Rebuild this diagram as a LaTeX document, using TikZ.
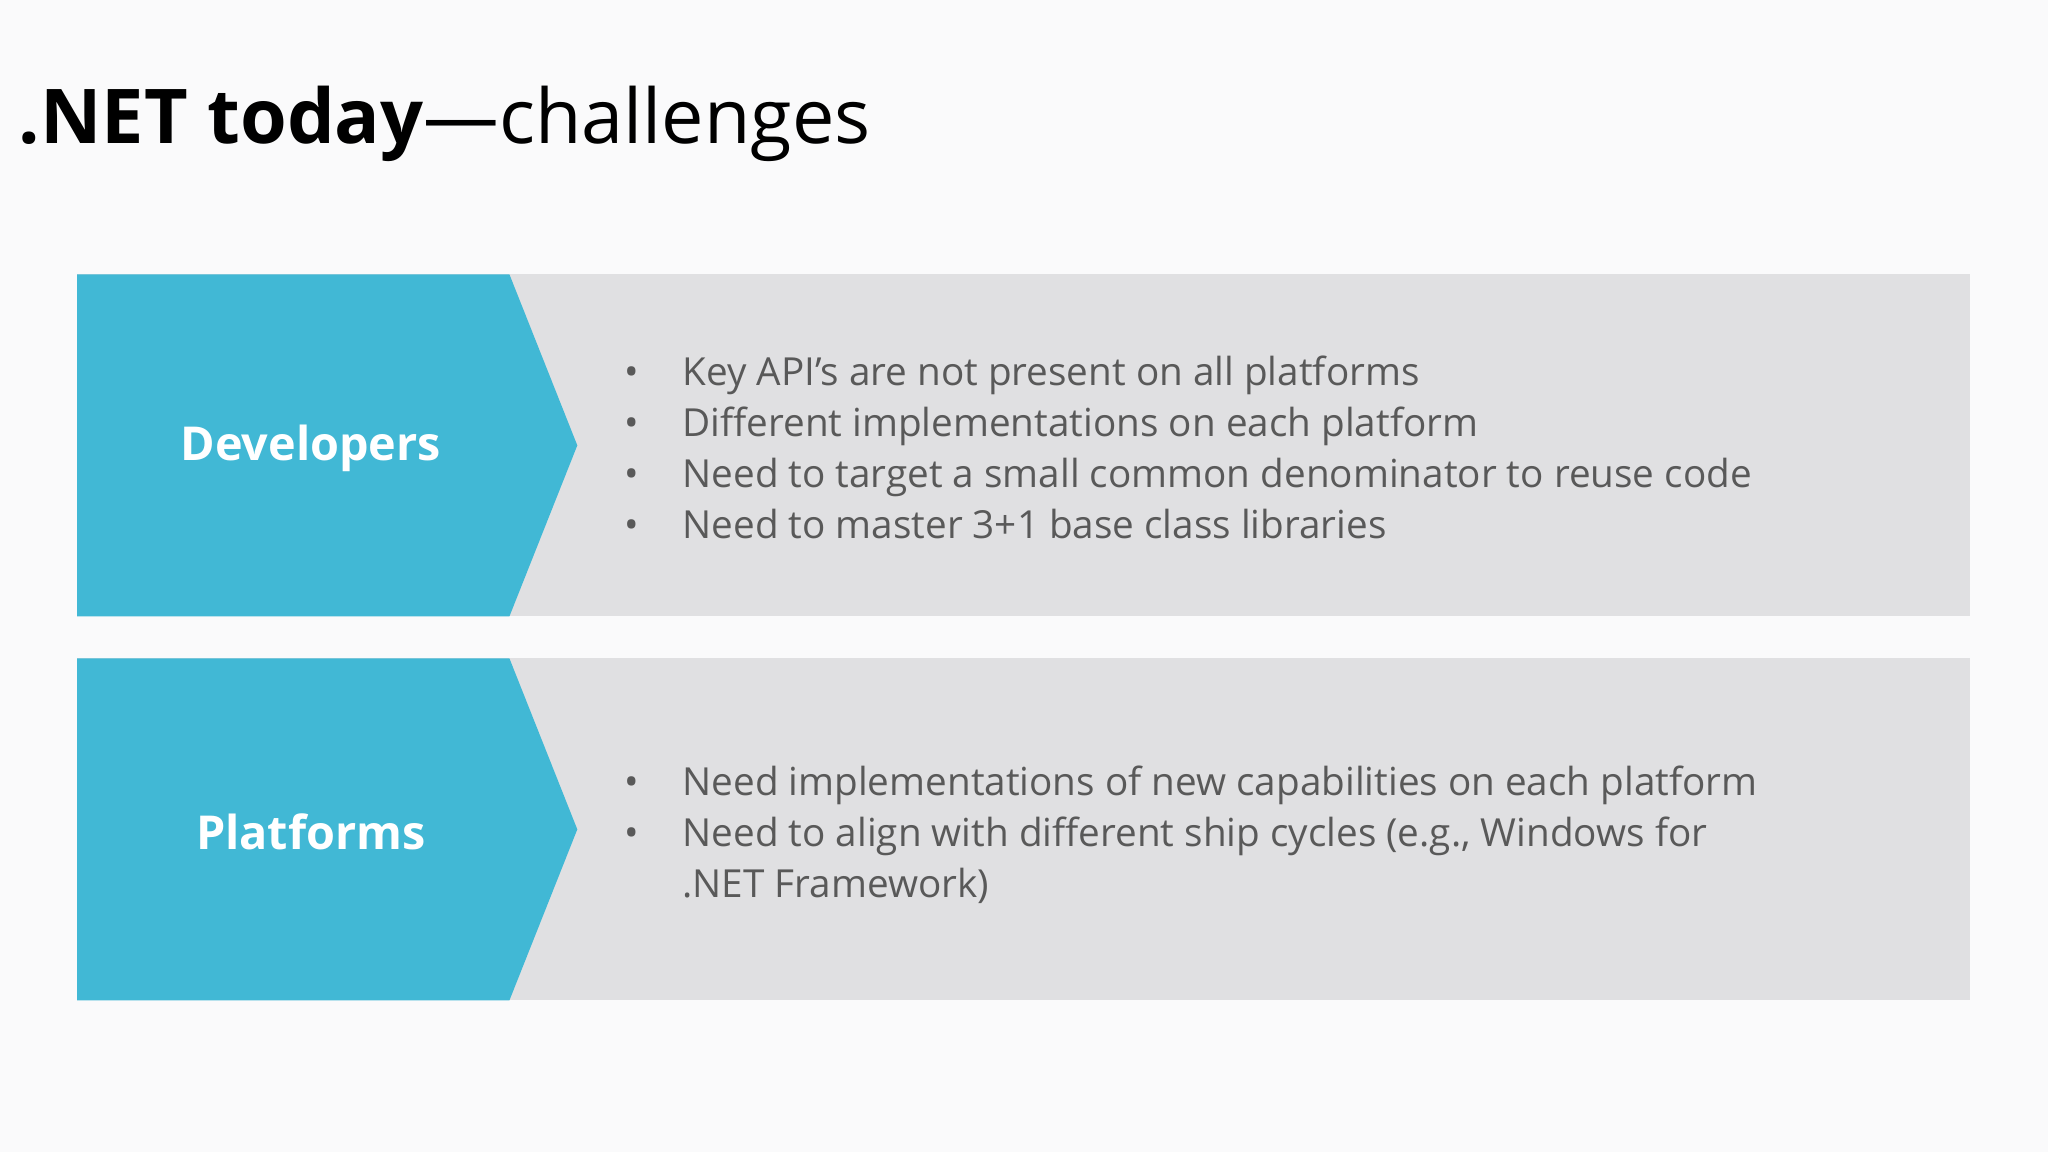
\documentclass[tikz,border=0pt]{standalone}
\usepackage{fontspec}
\setmainfont{Open Sans}
\begin{document}
\begin{tikzpicture}[x=0.01306cm,y=-0.01306cm,
  band/.style={fill=bandgray,draw=none},
  chev/.style={fill=chevblue,draw=none},
  head/.style={text=white,font=\fontsize{13.3pt}{16pt}\selectfont\bfseries},
  bul/.style={anchor=base west,text=bodygray,font=\fontsize{11pt}{15pt}\selectfont,inner sep=0pt}]
\definecolor{bandgray}{HTML}{E0E0E2}
\definecolor{chevblue}{HTML}{41B8D5}
\definecolor{bodygray}{HTML}{595959}
\definecolor{bg}{HTML}{FAFAFB}
\fill[bg] (0,0) rectangle (1568,882);
\useasboundingbox (0,0) rectangle (1568,882);
\node[anchor=base west,inner sep=0pt,font=\fontsize{21.5pt}{26pt}\selectfont] (title) at (14,110) {\textbf{.NET today}—challenges};
% band 1
\fill[band] (59,210) rectangle (1508,472);
\fill[chev] (59,210) -- (390,210) -- (442,341) -- (390,472) -- (59,472) -- cycle;
\node[head] (dev) at (238,343) {Developers};
\foreach \t [count=\i] in {Key API’s are not present on all platforms,Different implementations on each platform,Need to target a small common denominator to reuse code,Need to master 3+1 base class libraries}{
  \node[bul] (d\i) at (522,256+39*\i) {\t};
  \node[bul,anchor=base] (db\i) at (484,256+39*\i) {•};
}
% band 2
\fill[band] (59,504) rectangle (1508,766);
\fill[chev] (59,504) -- (390,504) -- (442,635) -- (390,766) -- (59,766) -- cycle;
\node[head] (plat) at (238,637) {Platforms};
\node[bul] (p1) at (522,609) {Need implementations of new capabilities on each platform};
\node[bul,anchor=base] (pb1) at (484,609) {•};
\node[bul] (p2) at (522,648) {Need to align with different ship cycles (e.g., Windows for};
\node[bul,anchor=base] (pb2) at (484,648) {•};
\node[bul] (p3) at (522,687) {.NET Framework)};
\end{tikzpicture}
\end{document}
